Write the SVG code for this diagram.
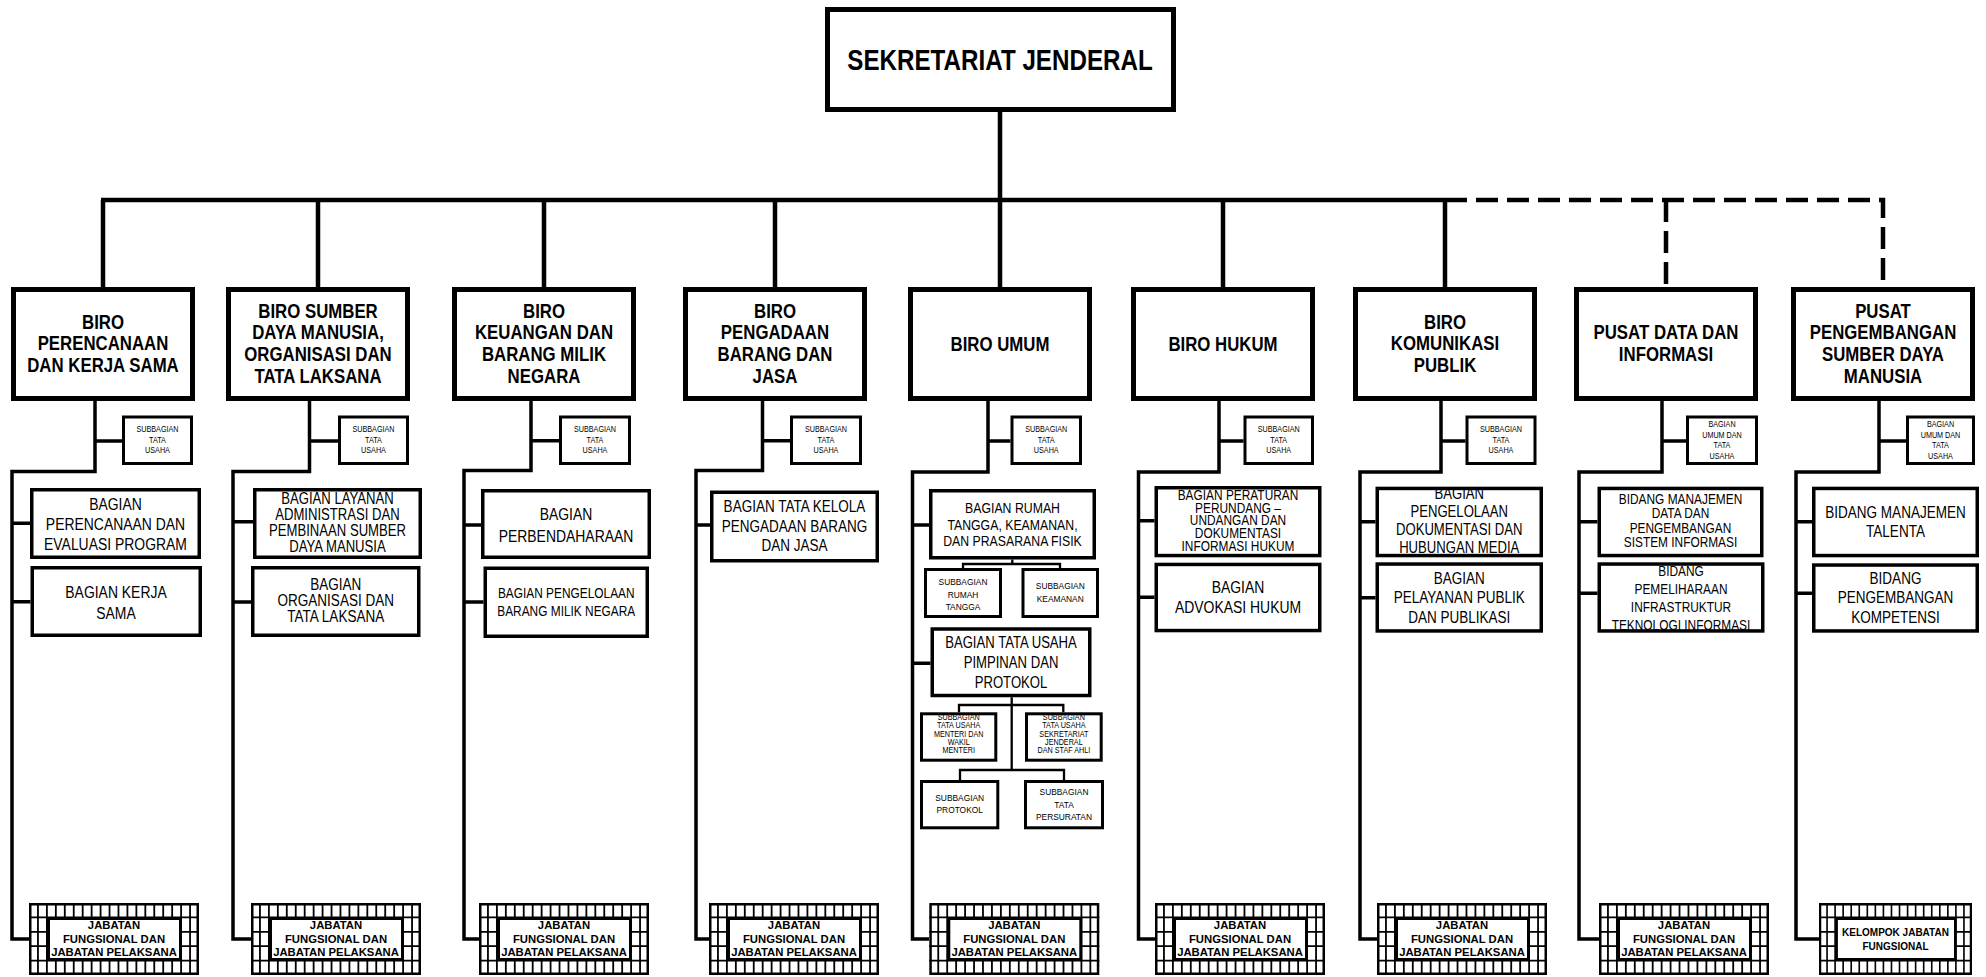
<svg xmlns="http://www.w3.org/2000/svg" width="1986" height="977" viewBox="0 0 1986 977">
<style>
.box{fill:#fff;stroke:#000}
.bt{stroke-width:5}
.bi{stroke-width:5}
.bg{stroke-width:3.5}
.sb{stroke-width:3}
.ln{fill:none;stroke:#000;stroke-width:3.5}
.thin{fill:none;stroke:#000;stroke-width:2.3}
.bus{fill:none;stroke:#000;stroke-width:4.5}
.dash{stroke-dasharray:22 9}
text{font-family:"Liberation Sans",Arial,sans-serif;text-anchor:middle;fill:#000}
.tt{font-weight:bold;font-size:29.5px}
.tb{font-weight:bold;font-size:20.5px}
.ts{font-size:8.8px}
.tr{font-size:8.4px}
.tj{font-weight:bold;font-size:11.3px}
.tk{font-weight:bold;font-size:10px}
.f17{font-size:17px}
.f165{font-size:16.5px}
.f16{font-size:16px}
.f15{font-size:15px}
.f145{font-size:14.5px}
</style>
<defs>
<g id="jab">
<rect x="1.25" y="1.25" width="167.5" height="69.5" fill="#fff" stroke="#000" stroke-width="2.5"/>
<path d="M8.95 0V72M17.89 0V72M26.84 0V72M35.79 0V72M44.74 0V72M53.68 0V72M62.63 0V72M71.58 0V72M80.53 0V72M89.47 0V72M98.42 0V72M107.37 0V72M116.32 0V72M125.26 0V72M134.21 0V72M143.16 0V72M152.11 0V72M161.05 0V72M0 14.4H170M0 28.8H170M0 43.2H170M0 57.6H170" fill="none" stroke="#000" stroke-width="1.8"/>
<rect x="19.5" y="15.5" width="132" height="41" fill="#fff" stroke="#000" stroke-width="3"/>
</g>
</defs>

<g id="connectors">
<path class="bus" d="M101 200H1445M1000 112V287M103 200V287M318 200V287M544 200V287M775 200V287M1223 200V287M1445 200V287"/>
<path class="bus dash" d="M1445 200H1883V287M1666 200V287"/>
<path class="ln" d="M95 401V471.5H12V939H29M95 441H122M12 523.3H30M12 601.7H30.5"/>
<path class="ln" d="M309.5 401V471.5H233V939H251M309.5 441H338M233 521.7H253M233 602H251"/>
<path class="ln" d="M531 401V470.5H464V939H479M531 440.7H559M464 525H481M464 602H483.5"/>
<path class="ln" d="M762.5 401V470.5H696V939H709M762.5 440.7H790M696 525H710"/>
<path class="ln" d="M988 401V472H912.5V939H929M988 441H1010.5M912.5 525H929M912.5 663.3H930.5"/>
<path class="thin" d="M1012.3 559.5V564M963 568V564H1060V568M1011.7 697.3V770M959 712.3V705H1063.3V712.3M960 780V770H1064V780"/>
<path class="ln" d="M1219 401V472H1138.5V939H1155M1219 441H1243.5M1138.5 520.7H1154.5M1138.5 597.3H1154.5"/>
<path class="ln" d="M1441 401V472H1360V939H1377M1441 441H1465.5M1360 521.7H1375.5M1360 597.7H1375.5"/>
<path class="ln" d="M1662 401V472H1579V939H1599M1662 441H1686M1579 521.7H1597.5M1579 593.3H1597.5"/>
<path class="ln" d="M1879 401V472H1796V939H1819M1879 441H1906M1796 521.7H1812M1796 593.3H1812"/>
</g>

<g id="sekjen">
<rect class="box bt" x="827.5" y="9.5" width="346" height="100"/>
<text class="tt" transform="translate(1000 0) scale(.82 1)" x="0" y="70.5">SEKRETARIAT JENDERAL</text>
</g>

<!-- Column 1 -->
<g id="biro-perencanaan">
<rect class="box bi" x="13.5" y="289.5" width="179" height="109"/>
<text class="tb" transform="translate(103 0) scale(.82 1)"><tspan x="0" y="328.6">BIRO</tspan><tspan x="0" y="350.3">PERENCANAAN</tspan><tspan x="0" y="372">DAN KERJA SAMA</tspan></text>
</g>
<g id="sub-tu-1">
<rect class="box sb" x="123.5" y="417" width="68" height="46.5"/>
<text class="ts" transform="translate(157.5 0) scale(.82 1)"><tspan x="0" y="432.3">SUBBAGIAN</tspan><tspan x="0" y="442.7">TATA</tspan><tspan x="0" y="453.3">USAHA</tspan></text>
</g>
<g id="bag-perencanaan">
<rect class="box bg" x="31.75" y="489.75" width="167.5" height="67.5"/>
<text class="f17" transform="translate(115.5 0) scale(.82 1)"><tspan x="0" y="510">BAGIAN</tspan><tspan x="0" y="530">PERENCANAAN DAN</tspan><tspan x="0" y="550">EVALUASI PROGRAM</tspan></text>
</g>
<g id="bag-kerjasama">
<rect class="box bg" x="32.25" y="567.75" width="168" height="67.5"/>
<text class="f17" transform="translate(116 0) scale(.82 1)"><tspan x="0" y="597.7">BAGIAN KERJA</tspan><tspan x="0" y="619">SAMA</tspan></text>
</g>
<g id="jab-1">
<use href="#jab" x="29" y="903"/>
<text class="tj"><tspan x="114" y="929">JABATAN</tspan><tspan x="114" y="942.5">FUNGSIONAL DAN</tspan><tspan x="114" y="956">JABATAN PELAKSANA</tspan></text>
</g>

<!-- Column 2 -->
<g id="biro-sdm">
<rect class="box bi" x="228.5" y="289.5" width="179" height="109"/>
<text class="tb" transform="translate(318 0) scale(.82 1)"><tspan x="0" y="317.75">BIRO SUMBER</tspan><tspan x="0" y="339.45">DAYA MANUSIA,</tspan><tspan x="0" y="361.15">ORGANISASI DAN</tspan><tspan x="0" y="382.85">TATA LAKSANA</tspan></text>
</g>
<g id="sub-tu-2">
<rect class="box sb" x="339.5" y="417" width="68" height="46.5"/>
<text class="ts" transform="translate(373.5 0) scale(.82 1)"><tspan x="0" y="432.3">SUBBAGIAN</tspan><tspan x="0" y="442.7">TATA</tspan><tspan x="0" y="453.3">USAHA</tspan></text>
</g>
<g id="bag-layanan">
<rect class="box bg" x="254.75" y="489.75" width="165.5" height="67.5"/>
<text class="f16" transform="translate(337.5 0) scale(.82 1)"><tspan x="0" y="504.3">BAGIAN LAYANAN</tspan><tspan x="0" y="520">ADMINISTRASI DAN</tspan><tspan x="0" y="535.7">PEMBINAAN SUMBER</tspan><tspan x="0" y="551.7">DAYA MANUSIA</tspan></text>
</g>
<g id="bag-organisasi">
<rect class="box bg" x="252.75" y="567.75" width="166" height="67.5"/>
<text class="f165" transform="translate(335.75 0) scale(.82 1)"><tspan x="0" y="590">BAGIAN</tspan><tspan x="0" y="605.7">ORGANISASI DAN</tspan><tspan x="0" y="621.7">TATA LAKSANA</tspan></text>
</g>
<g id="jab-2">
<use href="#jab" x="251" y="903"/>
<text class="tj"><tspan x="336" y="929">JABATAN</tspan><tspan x="336" y="942.5">FUNGSIONAL DAN</tspan><tspan x="336" y="956">JABATAN PELAKSANA</tspan></text>
</g>

<!-- Column 3 -->
<g id="biro-keuangan">
<rect class="box bi" x="454.5" y="289.5" width="179" height="109"/>
<text class="tb" transform="translate(544 0) scale(.82 1)"><tspan x="0" y="317.75">BIRO</tspan><tspan x="0" y="339.45">KEUANGAN DAN</tspan><tspan x="0" y="361.15">BARANG MILIK</tspan><tspan x="0" y="382.85">NEGARA</tspan></text>
</g>
<g id="sub-tu-3">
<rect class="box sb" x="560.5" y="417" width="69" height="46.5"/>
<text class="ts" transform="translate(595 0) scale(.82 1)"><tspan x="0" y="432.3">SUBBAGIAN</tspan><tspan x="0" y="442.7">TATA</tspan><tspan x="0" y="453.3">USAHA</tspan></text>
</g>
<g id="bag-perbendaharaan">
<rect class="box bg" x="482.75" y="490.75" width="166.5" height="66.5"/>
<text class="f17" transform="translate(566 0) scale(.82 1)"><tspan x="0" y="520">BAGIAN</tspan><tspan x="0" y="541.7">PERBENDAHARAAN</tspan></text>
</g>
<g id="bag-bmn">
<rect class="box bg" x="485.25" y="568.25" width="162" height="68"/>
<text class="f145" transform="translate(566.25 0) scale(.82 1)"><tspan x="0" y="598.3">BAGIAN PENGELOLAAN</tspan><tspan x="0" y="616">BARANG MILIK NEGARA</tspan></text>
</g>
<g id="jab-3">
<use href="#jab" x="479" y="903"/>
<text class="tj"><tspan x="564" y="929">JABATAN</tspan><tspan x="564" y="942.5">FUNGSIONAL DAN</tspan><tspan x="564" y="956">JABATAN PELAKSANA</tspan></text>
</g>

<!-- Column 4 -->
<g id="biro-pengadaan">
<rect class="box bi" x="685.5" y="289.5" width="179" height="109"/>
<text class="tb" transform="translate(775 0) scale(.82 1)"><tspan x="0" y="317.75">BIRO</tspan><tspan x="0" y="339.45">PENGADAAN</tspan><tspan x="0" y="361.15">BARANG DAN</tspan><tspan x="0" y="382.85">JASA</tspan></text>
</g>
<g id="sub-tu-4">
<rect class="box sb" x="791.5" y="417" width="69" height="46.5"/>
<text class="ts" transform="translate(826 0) scale(.82 1)"><tspan x="0" y="432.3">SUBBAGIAN</tspan><tspan x="0" y="442.7">TATA</tspan><tspan x="0" y="453.3">USAHA</tspan></text>
</g>
<g id="bag-tatakelola">
<rect class="box bg" x="711.75" y="492.25" width="165.5" height="68.5"/>
<text class="f165" transform="translate(794.5 0) scale(.82 1)"><tspan x="0" y="512.3">BAGIAN TATA KELOLA</tspan><tspan x="0" y="531.7">PENGADAAN BARANG</tspan><tspan x="0" y="551">DAN JASA</tspan></text>
</g>
<g id="jab-4">
<use href="#jab" x="709" y="903"/>
<text class="tj"><tspan x="794" y="929">JABATAN</tspan><tspan x="794" y="942.5">FUNGSIONAL DAN</tspan><tspan x="794" y="956">JABATAN PELAKSANA</tspan></text>
</g>

<!-- Column 5 -->
<g id="biro-umum">
<rect class="box bi" x="910.5" y="289.5" width="179" height="109"/>
<text class="tb" transform="translate(1000 0) scale(.82 1)" x="0" y="351">BIRO UMUM</text>
</g>
<g id="sub-tu-5">
<rect class="box sb" x="1012" y="417" width="68.5" height="46.5"/>
<text class="ts" transform="translate(1046.25 0) scale(.82 1)"><tspan x="0" y="432.3">SUBBAGIAN</tspan><tspan x="0" y="442.7">TATA</tspan><tspan x="0" y="453.3">USAHA</tspan></text>
</g>
<g id="bag-rumahtangga">
<rect class="box bg" x="930.75" y="490.75" width="163.5" height="67"/>
<text class="f15" transform="translate(1012.5 0) scale(.82 1)"><tspan x="0" y="513.3">BAGIAN RUMAH</tspan><tspan x="0" y="530">TANGGA, KEAMANAN,</tspan><tspan x="0" y="545.7">DAN PRASARANA FISIK</tspan></text>
</g>
<g id="sub-rumahtangga">
<rect class="box sb" x="925.5" y="569.5" width="75" height="47"/>
<text class="tr"><tspan x="963" y="585">SUBBAGIAN</tspan><tspan x="963" y="597.7">RUMAH</tspan><tspan x="963" y="610">TANGGA</tspan></text>
</g>
<g id="sub-keamanan">
<rect class="box sb" x="1023" y="569.5" width="74.5" height="47"/>
<text class="tr"><tspan x="1060.25" y="589.3">SUBBAGIAN</tspan><tspan x="1060.25" y="601.7">KEAMANAN</tspan></text>
</g>
<g id="bag-tupimpinan">
<rect class="box bg" x="932.25" y="629" width="157.5" height="66.5"/>
<text class="f16" transform="translate(1011 0) scale(.82 1)"><tspan x="0" y="648.5">BAGIAN TATA USAHA</tspan><tspan x="0" y="668.5">PIMPINAN DAN</tspan><tspan x="0" y="688.5">PROTOKOL</tspan></text>
</g>
<g id="sub-tu-menteri">
<rect class="box sb" x="921.5" y="713.8" width="74.3" height="46.4"/>
<text class="ts" transform="translate(958.7 0) scale(.82 1)"><tspan x="0" y="719.8">SUBBAGIAN</tspan><tspan x="0" y="728.2">TATA USAHA</tspan><tspan x="0" y="736.6">MENTERI DAN</tspan><tspan x="0" y="745">WAKIL</tspan><tspan x="0" y="753.4">MENTERI</tspan></text>
</g>
<g id="sub-tu-sekjen">
<rect class="box sb" x="1026.5" y="713.8" width="74.7" height="46.4"/>
<text class="ts" transform="translate(1063.85 0) scale(.82 1)"><tspan x="0" y="719.8">SUBBAGIAN</tspan><tspan x="0" y="728.2">TATA USAHA</tspan><tspan x="0" y="736.6">SEKRETARIAT</tspan><tspan x="0" y="745">JENDERAL</tspan><tspan x="0" y="753.4">DAN STAF AHLI</tspan></text>
</g>
<g id="sub-protokol">
<rect class="box sb" x="921.5" y="781.5" width="76.3" height="46.3"/>
<text class="tr"><tspan x="959.7" y="801">SUBBAGIAN</tspan><tspan x="959.7" y="813.3">PROTOKOL</tspan></text>
</g>
<g id="sub-persuratan">
<rect class="box sb" x="1025.5" y="781.5" width="77" height="46.3"/>
<text class="tr"><tspan x="1064" y="795">SUBBAGIAN</tspan><tspan x="1064" y="807.7">TATA</tspan><tspan x="1064" y="820">PERSURATAN</tspan></text>
</g>
<g id="jab-5">
<use href="#jab" x="929.3" y="903"/>
<text class="tj"><tspan x="1014.3" y="929">JABATAN</tspan><tspan x="1014.3" y="942.5">FUNGSIONAL DAN</tspan><tspan x="1014.3" y="956">JABATAN PELAKSANA</tspan></text>
</g>

<!-- Column 6 -->
<g id="biro-hukum">
<rect class="box bi" x="1133.5" y="289.5" width="179" height="109"/>
<text class="tb" transform="translate(1223 0) scale(.82 1)" x="0" y="351">BIRO HUKUM</text>
</g>
<g id="sub-tu-6">
<rect class="box sb" x="1245" y="417" width="67.5" height="46.5"/>
<text class="ts" transform="translate(1278.75 0) scale(.82 1)"><tspan x="0" y="432.3">SUBBAGIAN</tspan><tspan x="0" y="442.7">TATA</tspan><tspan x="0" y="453.3">USAHA</tspan></text>
</g>
<g id="bag-peraturan">
<rect class="box bg" x="1156.25" y="487.75" width="163.5" height="67.8"/>
<text class="f145" transform="translate(1238 0) scale(.82 1)"><tspan x="0" y="500">BAGIAN PERATURAN</tspan><tspan x="0" y="512.7">PERUNDANG –</tspan><tspan x="0" y="525.5">UNDANGAN DAN</tspan><tspan x="0" y="538.3">DOKUMENTASI</tspan><tspan x="0" y="551">INFORMASI HUKUM</tspan></text>
</g>
<g id="bag-advokasi">
<rect class="box bg" x="1156.25" y="564.45" width="163.5" height="66.1"/>
<text class="f17" transform="translate(1238 0) scale(.82 1)"><tspan x="0" y="593.3">BAGIAN</tspan><tspan x="0" y="613.3">ADVOKASI HUKUM</tspan></text>
</g>
<g id="jab-6">
<use href="#jab" x="1155" y="903"/>
<text class="tj"><tspan x="1240" y="929">JABATAN</tspan><tspan x="1240" y="942.5">FUNGSIONAL DAN</tspan><tspan x="1240" y="956">JABATAN PELAKSANA</tspan></text>
</g>

<!-- Column 7 -->
<g id="biro-komunikasi">
<rect class="box bi" x="1355.5" y="289.5" width="179" height="109"/>
<text class="tb" transform="translate(1445 0) scale(.82 1)"><tspan x="0" y="328.6">BIRO</tspan><tspan x="0" y="350.3">KOMUNIKASI</tspan><tspan x="0" y="372">PUBLIK</tspan></text>
</g>
<g id="sub-tu-7">
<rect class="box sb" x="1467" y="417" width="68" height="46.5"/>
<text class="ts" transform="translate(1501 0) scale(.82 1)"><tspan x="0" y="432.3">SUBBAGIAN</tspan><tspan x="0" y="442.7">TATA</tspan><tspan x="0" y="453.3">USAHA</tspan></text>
</g>
<g id="bag-dokumentasi">
<rect class="box bg" x="1377.25" y="488.45" width="164" height="67.1"/>
<text class="f16" transform="translate(1459.25 0) scale(.82 1)"><tspan x="0" y="499.3">BAGIAN</tspan><tspan x="0" y="517.3">PENGELOLAAN</tspan><tspan x="0" y="535.5">DOKUMENTASI DAN</tspan><tspan x="0" y="553.3">HUBUNGAN MEDIA</tspan></text>
</g>
<g id="bag-pelayanan">
<rect class="box bg" x="1377.25" y="564.05" width="164" height="66.9"/>
<text class="f165" transform="translate(1459.25 0) scale(.82 1)"><tspan x="0" y="584">BAGIAN</tspan><tspan x="0" y="603.3">PELAYANAN PUBLIK</tspan><tspan x="0" y="622.7">DAN PUBLIKASI</tspan></text>
</g>
<g id="jab-7">
<use href="#jab" x="1377" y="903"/>
<text class="tj"><tspan x="1462" y="929">JABATAN</tspan><tspan x="1462" y="942.5">FUNGSIONAL DAN</tspan><tspan x="1462" y="956">JABATAN PELAKSANA</tspan></text>
</g>

<!-- Column 8 -->
<g id="pusat-data">
<rect class="box bi" x="1576.5" y="289.5" width="179" height="109"/>
<text class="tb" transform="translate(1666 0) scale(.82 1)"><tspan x="0" y="339.45">PUSAT DATA DAN</tspan><tspan x="0" y="361.15">INFORMASI</tspan></text>
</g>
<g id="bag-umum-8">
<rect class="box sb" x="1687.5" y="417" width="69" height="46.5"/>
<text class="ts" transform="translate(1722 0) scale(.82 1)"><tspan x="0" y="427">BAGIAN</tspan><tspan x="0" y="437.7">UMUM DAN</tspan><tspan x="0" y="448.4">TATA</tspan><tspan x="0" y="459">USAHA</tspan></text>
</g>
<g id="bid-manajemen-data">
<rect class="box bg" x="1599.25" y="488.45" width="162.5" height="67.1"/>
<text class="f145" transform="translate(1680.5 0) scale(.82 1)"><tspan x="0" y="504">BIDANG MANAJEMEN</tspan><tspan x="0" y="518.5">DATA DAN</tspan><tspan x="0" y="533">PENGEMBANGAN</tspan><tspan x="0" y="547.5">SISTEM INFORMASI</tspan></text>
</g>
<g id="bid-pemeliharaan">
<rect class="box bg" x="1599.25" y="564.05" width="163.5" height="66.9"/>
<text class="f145" transform="translate(1681 0) scale(.82 1)"><tspan x="0" y="576">BIDANG</tspan><tspan x="0" y="594">PEMELIHARAAN</tspan><tspan x="0" y="612">INFRASTRUKTUR</tspan><tspan x="0" y="630">TEKNOLOGI INFORMASI</tspan></text>
</g>
<g id="jab-8">
<use href="#jab" x="1599" y="903"/>
<text class="tj"><tspan x="1684" y="929">JABATAN</tspan><tspan x="1684" y="942.5">FUNGSIONAL DAN</tspan><tspan x="1684" y="956">JABATAN PELAKSANA</tspan></text>
</g>

<!-- Column 9 -->
<g id="pusat-sdm">
<rect class="box bi" x="1793.5" y="289.5" width="179" height="109"/>
<text class="tb" transform="translate(1883 0) scale(.82 1)"><tspan x="0" y="317.75">PUSAT</tspan><tspan x="0" y="339.45">PENGEMBANGAN</tspan><tspan x="0" y="361.15">SUMBER DAYA</tspan><tspan x="0" y="382.85">MANUSIA</tspan></text>
</g>
<g id="bag-umum-9">
<rect class="box sb" x="1907.5" y="417" width="66" height="46.5"/>
<text class="ts" transform="translate(1940.5 0) scale(.82 1)"><tspan x="0" y="427">BAGIAN</tspan><tspan x="0" y="437.7">UMUM DAN</tspan><tspan x="0" y="448.4">TATA</tspan><tspan x="0" y="459">USAHA</tspan></text>
</g>
<g id="bid-talenta">
<rect class="box bg" x="1813.75" y="488.45" width="163.5" height="67.1"/>
<text class="f165" transform="translate(1895.5 0) scale(.82 1)"><tspan x="0" y="517.7">BIDANG MANAJEMEN</tspan><tspan x="0" y="536.7">TALENTA</tspan></text>
</g>
<g id="bid-kompetensi">
<rect class="box bg" x="1813.75" y="565.05" width="163.5" height="65.9"/>
<text class="f165" transform="translate(1895.5 0) scale(.82 1)"><tspan x="0" y="584">BIDANG</tspan><tspan x="0" y="603.5">PENGEMBANGAN</tspan><tspan x="0" y="623">KOMPETENSI</tspan></text>
</g>
<g id="jab-9">
<use href="#jab" transform="translate(1819 903) scale(0.9 1)"/>
<text class="tk"><tspan x="1895.5" y="936">KELOMPOK JABATAN</tspan><tspan x="1895.5" y="950">FUNGSIONAL</tspan></text>
</g>
</svg>
